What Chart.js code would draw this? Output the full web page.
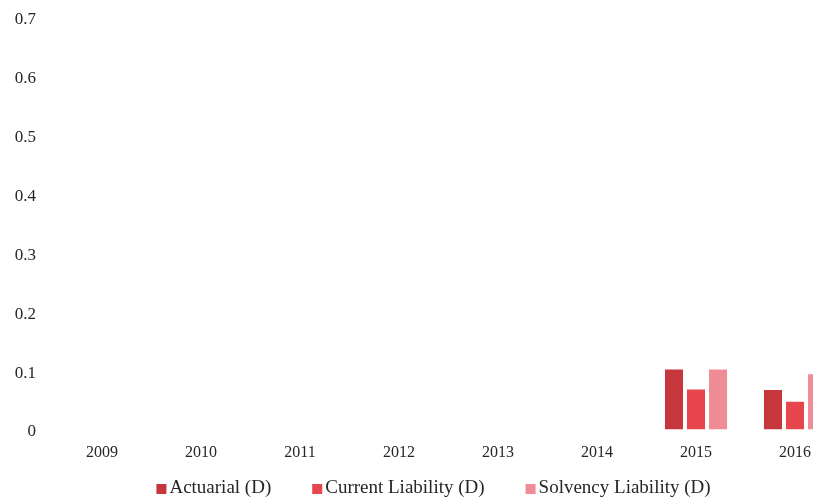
<!DOCTYPE html>
<html>
<head>
<meta charset="utf-8">
<script src="https://cdn.jsdelivr.net/npm/chart.js@4"></script>
<style>
  html, body { margin: 0; padding: 0; background: #fff; width: 813px; height: 497px; overflow: hidden; }
  #wrap { position: relative; width: 870px; height: 497px; }
</style>
</head>
<body>
<div id="wrap"><canvas id="c" width="870" height="497"></canvas></div>
<script>
const years = ['2009', '2010', '2011', '2012', '2013', '2014', '2015', '2016'];
const actuarial = [0, 0, 0, 0, 0, 0, 0.102, 0.067];
const currentLiability = [0, 0, 0, 0, 0, 0, 0.068, 0.047];
const solvencyLiability = [0, 0, 0, 0, 0, 0, 0.102, 0.094];
const yTicks = [0, 0.1, 0.2, 0.3, 0.4, 0.5, 0.6, 0.7];
const seriesNames = ['Actuarial (D)', 'Current Liability (D)', 'Solvency Liability (D)'];
const seriesColors = ['#c5363d', '#e8464f', '#f08c95'];

const TEXT = '#262626';
const FONT = '"Liberation Serif", "Times New Roman", serif';

// Legend drawn along the bottom edge: small square swatch followed closely by its label
const bottomLegend = {
  id: 'bottomLegend',
  afterDraw(chart) {
    const ctx = chart.ctx;
    ctx.save();
    ctx.font = '19px ' + FONT;
    ctx.textBaseline = 'middle';
    ctx.textAlign = 'left';
    const box = 10, gap = 3, spacing = 41;
    const widths = seriesNames.map(n => ctx.measureText(n).width);
    const total = widths.reduce((a, w) => a + box + gap + w, 0) + spacing * (seriesNames.length - 1);
    let x = 433.5 - total / 2;
    const cy = 489;
    seriesNames.forEach((n, i) => {
      ctx.fillStyle = seriesColors[i];
      ctx.fillRect(x, cy - box / 2, box, box);
      ctx.fillStyle = TEXT;
      ctx.fillText(n, x + box + gap, cy - 1);
      x += box + gap + widths[i] + spacing;
    });
    ctx.restore();
  }
};

const datasets = [actuarial, currentLiability, solvencyLiability].map((d, i) => ({
  label: seriesNames[i],
  data: d,
  backgroundColor: seriesColors[i],
  borderWidth: 0,
  categoryPercentage: 0.667,
  barPercentage: 0.82
}));

new Chart(document.getElementById('c'), {
  type: 'bar',
  data: { labels: years, datasets },
  plugins: [bottomLegend],
  options: {
    responsive: false,
    animation: false,
    layout: { padding: { top: 17.3, right: 25.5, bottom: 32.5, left: 0 } },
    plugins: { legend: { display: false }, tooltip: { enabled: false } },
    scales: {
      x: {
        grid: { display: false, drawTicks: false },
        border: { display: false },
        ticks: { color: TEXT, font: { family: FONT, size: 16 }, padding: 14, maxRotation: 0 },
        afterFit(scale) { scale.height = 35; scale.paddingLeft = 0; scale.paddingRight = 0; }
      },
      y: {
        min: 0,
        max: 0.7,
        grid: { display: false, drawTicks: false },
        border: { display: false },
        afterBuildTicks(scale) { scale.ticks = yTicks.map(v => ({ value: v })); },
        ticks: {
          color: TEXT,
          font: { family: FONT, size: 17 },
          padding: 16.5,
          labelOffset: 2.5,
          callback: v => String(Math.round(v * 10) / 10)
        },
        afterFit(scale) { scale.width = 52.5; scale.paddingTop = 0; scale.paddingBottom = 0; }
      }
    }
  }
});
</script>
</body>
</html>
